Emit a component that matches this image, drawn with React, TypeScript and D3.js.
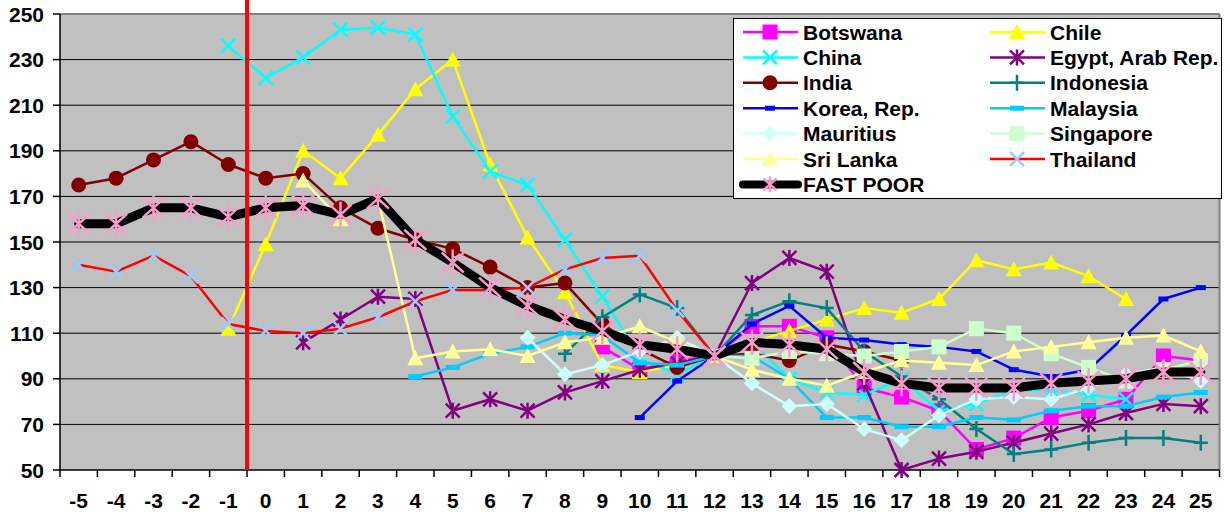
import * as d3 from "d3";

const categories = [
  "-5", "-4", "-3", "-2", "-1", "0", "1", "2", "3", "4", "5", "6", "7", "8", "9", "10",
  "11", "12", "13", "14", "15", "16", "17", "18", "19", "20", "21", "22", "23", "24", "25",
];
const yTicks = [50, 70, 90, 110, 130, 150, 170, 190, 210, 230, 250];

const _ = null;
const botswana = [_, _, _, _, _, _, _, _, _, _, _, _, _, _, 104, 94, 98, 100, 113, 113, 108, 86, 82, 76, 59, 64, 73, 76, 81, 100, 98];
const chile = [_, _, _, _, 112, 149, 190, 178, 197, 217, 230, 184, 152, 128, 96, 93, 96, 100, 106, 111, 116, 121, 119, 125, 142, 138, 141, 135, 125, _, _];
const china = [_, _, _, _, 236, 222, 231, 243, 244, 241, 205, 181, 175, 151, 126, 99, 92, 100, 106, 90, 84, 83, 90, 76, 79, 85, 85, 83, 81, _, _];
const egypt = [_, _, _, _, _, _, 106, 116, 126, 125, 76, 81, 76, 84, 89, 94, 97, 100, 132, 143, 137, 88, 50, 55, 58, 62, 66, 70, 75, 79, 78];
const india = [175, 178, 186, 194, 184, 178, 180, 165, 156, 151, 147, 139, 130, 132, 114, 103, 95, 100, 101, 98, 105, 102, 98, _, _, _, _, _, _, _, _];
const indonesia = [_, _, _, _, _, _, _, _, _, _, _, _, _, 101, 117, 127, 121, 100, 118, 124, 121, 102, 91, 81, 68, 57, 59, 62, 64, 64, 62];
const korea = [_, _, _, _, _, _, _, _, _, _, _, _, _, _, _, 73, 89, 100, 114, 122, 108, 107, 105, 104, 102, 94, 91, 94, 109, 125, 130];
const malaysia = [_, _, _, _, _, _, _, _, _, 91, 95, 101, 104, 110, 109, 97, 96, 100, 100, 90, 73, 73, 69, 69, 73, 72, 76, 78, 78, 82, 84];
const mauritius = [_, _, _, _, _, _, _, _, _, _, _, _, 108, 92, 96, 102, 108, 100, 88, 78, 79, 68, 63, 74, 81, 82, 81, 86, 92, 95, 89];
const singapore = [_, _, _, _, _, _, _, _, _, _, _, _, _, _, _, _, 105, 100, 99, 102, 101, 100, 102, 104, 112, 110, 101, 95, 89, 94, 98];
const sriLanka = [_, _, _, _, _, _, 177, 160, 169, 99, 102, 103, 100, 106, 108, 113, 106, 100, 94, 90, 87, 93, 98, 97, 96, 102, 104, 106, 108, 109, 102];
const thailand = [140, 137, 144, 135, 114, 111, 110, 112, 117, 124, 129, 129, 130, 138, 143, 144, 120, 100, _, _, _, _, _, _, _, _, _, _, _, _, _];
const fastPoor = [158, 158, 165, 165, 161, 165, 166, 162, 169, 151, 141, 130, 122, 116, 111, 105, 103, 100, 106, 105, 103, 93, 88, 86, 86, 86, 88, 89, 90, 93, 93];

const series = [
  { name: "Botswana", values: botswana, line: "#FF00FF", marker: "square", fill: "#FF00FF", width: 2.5 },
  { name: "Chile", values: chile, line: "#FFFF00", marker: "triangle", fill: "#FFFF00", width: 2.5 },
  { name: "China", values: china, line: "#00FFFF", marker: "x", fill: "#00FFFF", width: 2.5 },
  { name: "Egypt, Arab Rep.", values: egypt, line: "#800080", marker: "asterisk", fill: "#800080", width: 2.5 },
  { name: "India", values: india, line: "#800000", marker: "circle", fill: "#800000", width: 2.5 },
  { name: "Indonesia", values: indonesia, line: "#008080", marker: "plus", fill: "#008080", width: 2.5 },
  { name: "Korea, Rep.", values: korea, line: "#0000FF", marker: "dashS", fill: "#0000FF", width: 2.5 },
  { name: "Malaysia", values: malaysia, line: "#00CCFF", marker: "dashL", fill: "#00CCFF", width: 2.5 },
  { name: "Mauritius", values: mauritius, line: "#CCFFFF", marker: "diamond", fill: "#CCFFFF", width: 2.5 },
  { name: "Singapore", values: singapore, line: "#CCFFCC", marker: "square", fill: "#CCFFCC", width: 2.5 },
  { name: "Sri Lanka", values: sriLanka, line: "#FFFF99", marker: "triangle", fill: "#FFFF99", width: 2.5 },
  { name: "Thailand", values: thailand, line: "#FF0000", marker: "x", fill: "#99CCFF", width: 2.5 },
  { name: "FAST POOR", values: fastPoor, line: "#000000", marker: "star", fill: "#FF99CC", width: 9 },
];

const W = 1230;
const H = 519;
const plot = { left: 60, right: 1219.5, top: 14, bottom: 470 };
const FONT = "'Liberation Sans', Arial, Helvetica, sans-serif";

const x = d3.scaleBand().domain(categories).range([plot.left, plot.right]);
const cx = (c: string) => (x(c) as number) + x.bandwidth() / 2;
const y = d3.scaleLinear().domain([50, 250]).range([plot.bottom, plot.top]);

function Marker({ type, color, px, py, k = 1 }) {
  switch (type) {
    case "square":
      return <rect x={px - 7.5} y={py - 7.5} width={15} height={15} fill={color} />;
    case "triangle":
      return <path d={`M${px},${py - 8}L${px + 8},${py + 7}L${px - 8},${py + 7}Z`} fill={color} />;
    case "circle":
      return <circle cx={px} cy={py} r={7.5} fill={color} />;
    case "diamond":
      return <path d={`M${px},${py - 8}L${px + 8},${py}L${px},${py + 8}L${px - 8},${py}Z`} fill={color} />;
    case "dashS":
      return <rect x={px - 5} y={py - 2.5} width={10} height={5} fill={color} />;
    case "dashL":
      return <rect x={px - 7} y={py - 2.5} width={14} height={5} fill={color} />;
    case "x":
      return (
        <path d={`M${px - 7},${py - 7}L${px + 7},${py + 7}M${px - 7},${py + 7}L${px + 7},${py - 7}`}
          stroke={color} strokeWidth={2.5} fill="none" />
      );
    case "plus":
      return (
        <path d={`M${px - 7},${py}L${px + 7},${py}M${px},${py - 8}L${px},${py + 8}`}
          stroke={color} strokeWidth={2.5} fill="none" />
      );
    case "asterisk":
      return (
        <path d={`M${px - 7},${py - 7}L${px + 7},${py + 7}M${px - 7},${py + 7}L${px + 7},${py - 7}M${px},${py - 8}L${px},${py + 8}`}
          stroke={color} strokeWidth={2.5} fill="none" />
      );
    case "star": {
      const a = 11 * k;
      const b = 10 * k;
      const c = 13 * k;
      return (
        <path d={`M${px - a},${py - b}L${px + a},${py + b}M${px - a},${py + b}L${px + a},${py - b}M${px},${py - c}L${px},${py + c}`}
          stroke={color} strokeWidth={2.5} fill="none" />
      );
    }
    default:
      return null;
  }
}

const line = d3
  .line<number | null>()
  .defined((d) => d != null)
  .x((_d, i) => cx(categories[i]))
  .y((d) => y(d as number));

export default function App() {
  const legendX = [743, 990];
  const legendY0 = 32;
  const legendDy = 25.4;

  return (
    <div style={{ position: "absolute", left: 0, top: 0 }}>
      <svg width={W} height={H} style={{ display: "block", background: "#fff" }} fontFamily={FONT}>
        <rect x={plot.left} y={plot.top} width={plot.right - plot.left} height={plot.bottom - plot.top} fill="#C0C0C0" />
        {yTicks.filter((t) => t > 50 && t < 250).map((t) => (
          <line key={t} x1={plot.left} x2={plot.right} y1={y(t)} y2={y(t)} stroke="#000" strokeWidth={1} />
        ))}
        <line x1={plot.left} x2={plot.right} y1={plot.top} y2={plot.top} stroke="#808080" strokeWidth={2} />
        <line x1={plot.right} x2={plot.right} y1={plot.top} y2={plot.bottom} stroke="#808080" strokeWidth={2} />

        {/* axes */}
        <line x1={plot.left} x2={plot.left} y1={plot.top} y2={plot.bottom} stroke="#000" strokeWidth={1.5} />
        <line x1={plot.left} x2={plot.right} y1={plot.bottom} y2={plot.bottom} stroke="#000" strokeWidth={1.5} />
        {yTicks.map((t) => (
          <g key={t}>
            <line x1={plot.left - 7} x2={plot.left} y1={y(t)} y2={y(t)} stroke="#000" strokeWidth={1.5} />
            <text x={44} y={y(t)} dy="0.36em" textAnchor="end" fontSize={21} fontWeight="bold">{t}</text>
          </g>
        ))}
        {categories.map((c) => (
          <line key={"t" + c} x1={x(c)} x2={x(c)} y1={plot.bottom} y2={plot.bottom + 7} stroke="#000" strokeWidth={1.5} />
        ))}
        <line x1={plot.right} x2={plot.right} y1={plot.bottom} y2={plot.bottom + 7} stroke="#000" strokeWidth={1.5} />
        {categories.map((c) => (
          <text key={"l" + c} x={cx(c)} y={508} textAnchor="middle" fontSize={21} fontWeight="bold">{c}</text>
        ))}

        {/* series */}
        {series.map((s) => (
          <g key={s.name}>
            <path d={line(s.values) as string} fill="none" stroke={s.line} strokeWidth={s.width}
              strokeLinejoin="round" strokeLinecap={s.width > 5 ? "round" : "butt"} />
            {s.values.map((v, i) =>
              v == null ? null : <Marker key={i} type={s.marker} color={s.fill} px={cx(categories[i])} py={y(v)} />
            )}
          </g>
        ))}

        {/* red marker line between -1 and 0 */}
        <line x1={x("0")} x2={x("0")} y1={0} y2={plot.bottom} stroke="#FF0000" strokeWidth={4} />

        {/* legend */}
        <rect x={733.5} y={18.5} width={488} height={180} fill="#fff" stroke="#000" strokeWidth={1} />
        {series.map((s, i) => {
          const col = i % 2;
          const row = Math.floor(i / 2);
          const lx = legendX[col];
          const ly = legendY0 + row * legendDy;
          return (
            <g key={"lg" + s.name}>
              <line x1={lx} x2={lx + 55} y1={ly} y2={ly} stroke={s.line} strokeWidth={s.width > 5 ? 8 : 2.5}
                strokeLinecap={s.width > 5 ? "round" : "butt"} />
              <Marker type={s.marker} color={s.fill} px={lx + 27} py={ly} k={0.6} />
              <text x={lx + 60} y={ly} dy="0.36em" fontSize={21} fontWeight="bold">{s.name}</text>
            </g>
          );
        })}
      </svg>
    </div>
  );
}
